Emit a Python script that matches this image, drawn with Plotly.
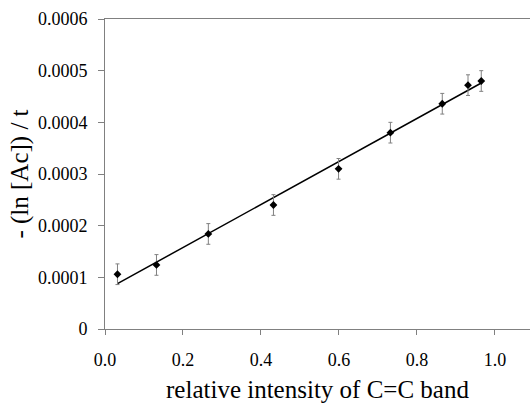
import numpy as np
import plotly.graph_objects as go

x_vals = [0.032, 0.132, 0.265, 0.432, 0.599, 0.732, 0.865, 0.931, 0.965]
y_vals = [0.000106, 0.000124, 0.000184, 0.000240, 0.000310, 0.000380, 0.000436, 0.000472, 0.000480]
y_err = [0.00002, 0.00002, 0.00002, 0.00002, 0.00002, 0.00002, 0.00002, 0.00002, 0.00002]
x_ticks = [0, 0.2, 0.4, 0.6, 0.8, 1.0]
x_ticktext = ["0.0", "0.2", "0.4", "0.6", "0.8", "1.0"]
y_ticks = [0, 0.0001, 0.0002, 0.0003, 0.0004, 0.0005, 0.0006]
y_ticktext = ["0", "0.0001", "0.0002", "0.0003", "0.0004", "0.0005", "0.0006"]

slope, intercept = np.polyfit(x_vals, y_vals, 1)
fit_x = [min(x_vals), max(x_vals)]
fit_y = [slope * v + intercept for v in fit_x]

fig = go.Figure()
fig.add_trace(go.Scatter(x=fit_x, y=fit_y, mode="lines",
                         line=dict(color="black", width=1.5), showlegend=False, hoverinfo="skip"))
fig.add_trace(go.Scatter(x=x_vals, y=y_vals, mode="markers",
                         marker=dict(symbol="diamond", size=6, color="black"),
                         error_y=dict(type="data", array=y_err, color="#808080", thickness=1, width=2),
                         showlegend=False))

ff = "Liberation Serif"
fig.update_layout(
    width=530, height=403,
    margin=dict(l=105, r=0, t=19, b=74),
    plot_bgcolor="white", paper_bgcolor="white",
    font=dict(family=ff, color="black", size=18),
    xaxis=dict(range=[0, 1.09], tickvals=x_ticks, ticktext=x_ticktext,
               showgrid=False, zeroline=False, showline=True, linecolor="#808080", linewidth=1,
               mirror=True, ticks="outside", ticklen=5, tickcolor="#808080",
               ticklabelstandoff=9,
               tickfont=dict(size=18, family=ff, color="black"),
               title=dict(text="relative intensity of C=C band", font=dict(size=25, family=ff), standoff=12)),
    yaxis=dict(range=[0, 0.0006], tickvals=y_ticks, ticktext=y_ticktext,
               showgrid=False, zeroline=False, showline=True, linecolor="#808080", linewidth=1,
               ticks="outside", ticklen=6, tickcolor="#808080",
               ticklabelstandoff=7,
               tickfont=dict(size=18, family=ff, color="black"),
               title=dict(text="- (ln [Ac]) / t", font=dict(size=25, family=ff), standoff=2)),
)
fig.write_html("out.html")
